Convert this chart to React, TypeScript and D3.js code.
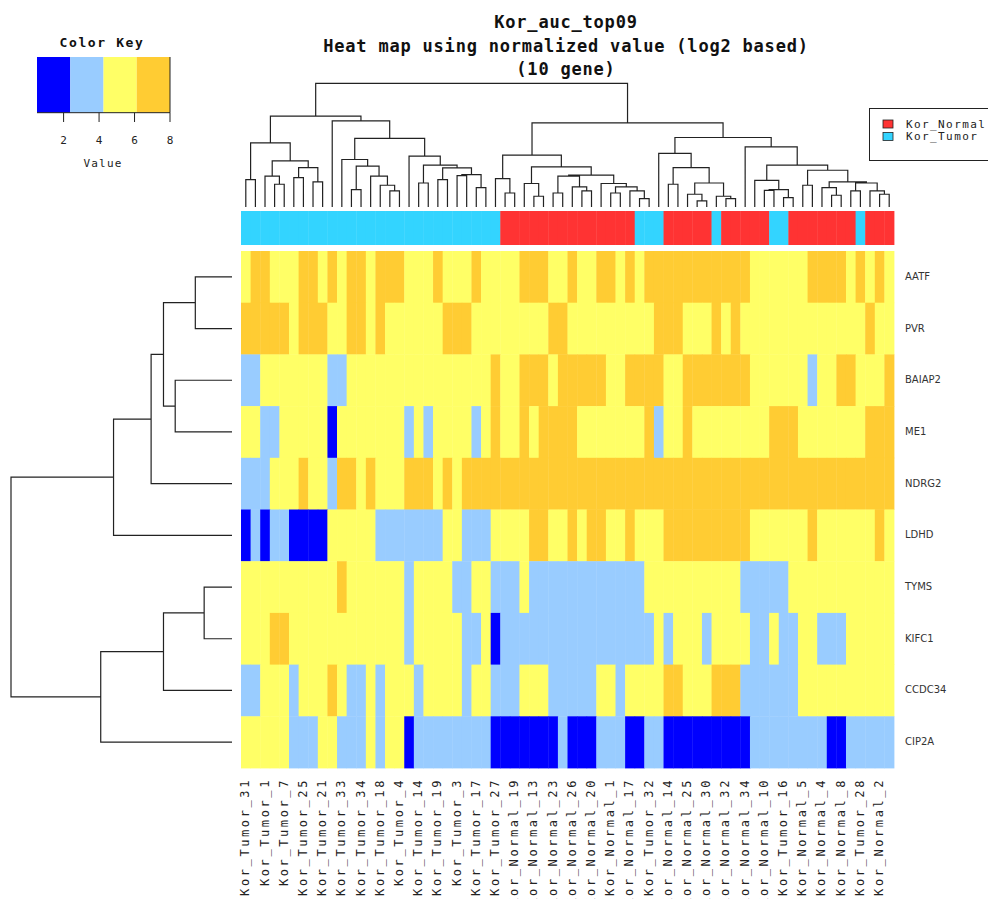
import React from "react";
import * as d3 from "d3";

// Genes (heatmap rows, top to bottom)
const genes = ["AATF", "PVR", "BAIAP2", "ME1", "NDRG2", "LDHD", "TYMS", "KIFC1", "CCDC34", "CIP2A"];

// Samples (heatmap columns, left to right); only every other name is printed
const colLabels = [
  "Kor_Tumor_31", "", "Kor_Tumor_1", "", "Kor_Tumor_7", "", "Kor_Tumor_25", "", "Kor_Tumor_21", "",
  "Kor_Tumor_33", "", "Kor_Tumor_34", "", "Kor_Tumor_18", "", "Kor_Tumor_4", "", "Kor_Tumor_14", "",
  "Kor_Tumor_19", "", "Kor_Tumor_3", "", "Kor_Tumor_17", "", "Kor_Tumor_27", "", "Kor_Normal_19", "",
  "Kor_Normal_13", "", "Kor_Normal_23", "", "Kor_Normal_26", "", "Kor_Normal_20", "", "Kor_Normal_1", "",
  "Kor_Normal_17", "", "Kor_Tumor_32", "", "Kor_Normal_14", "", "Kor_Normal_25", "", "Kor_Normal_30", "",
  "Kor_Normal_32", "", "Kor_Normal_34", "", "Kor_Normal_10", "", "Kor_Tumor_16", "", "Kor_Normal_5", "",
  "Kor_Normal_4", "", "Kor_Normal_8", "", "Kor_Tumor_28", "", "Kor_Normal_2", "",
];

// Sample class of each column (T = Kor_Tumor, N = Kor_Normal)
const colGroups = [
  "T", "T", "T", "T", "T", "T", "T", "T", "T", "T", "T", "T", "T", "T", "T", "T", "T", "T", "T", "T",
  "T", "T", "T", "T", "T", "T", "T", "N", "N", "N", "N", "N", "N", "N", "N", "N", "N", "N", "N", "N",
  "N", "T", "T", "T", "N", "N", "N", "N", "N", "T", "N", "N", "N", "N", "N", "T", "T", "N", "N", "N",
  "N", "N", "N", "N", "T", "N", "N", "N",
];

// Normalized expression (log2), one row per gene
const valAATF = [
  5.2, 7.0, 7.0, 5.2, 5.2, 5.2, 7.0, 7.0, 5.2, 7.0,
  5.2, 7.0, 7.0, 5.2, 7.0, 7.0, 7.0, 5.2, 5.2, 5.2,
  7.0, 5.2, 5.2, 5.2, 7.0, 5.2, 5.2, 5.2, 5.2, 7.0,
  7.0, 7.0, 5.2, 5.2, 7.0, 5.2, 5.2, 7.0, 7.0, 5.2,
  7.0, 5.2, 7.0, 7.0, 7.0, 7.0, 7.0, 7.0, 7.0, 7.0,
  7.0, 7.0, 7.0, 5.2, 5.2, 5.2, 5.2, 5.2, 5.2, 7.0,
  7.0, 7.0, 7.0, 5.2, 7.0, 5.2, 7.0, 5.2,
];
const valPVR = [
  7.0, 7.0, 7.0, 7.0, 7.0, 5.2, 7.0, 7.0, 7.0, 5.2,
  5.2, 7.0, 7.0, 5.2, 7.0, 5.2, 5.2, 5.2, 5.2, 5.2,
  5.2, 7.0, 7.0, 7.0, 5.2, 5.2, 5.2, 5.2, 5.2, 5.2,
  5.2, 5.2, 7.0, 7.0, 5.2, 5.2, 5.2, 5.2, 5.2, 5.2,
  5.2, 5.2, 5.2, 7.0, 7.0, 7.0, 5.2, 5.2, 5.2, 7.0,
  5.2, 7.0, 5.2, 5.2, 5.2, 5.2, 5.2, 5.2, 5.2, 5.2,
  5.2, 5.2, 5.2, 5.2, 5.2, 7.0, 5.2, 5.2,
];
const valBAIAP2 = [
  3.3, 3.3, 5.2, 5.2, 5.2, 5.2, 5.2, 5.2, 5.2, 3.3,
  3.3, 5.2, 5.2, 5.2, 5.2, 5.2, 5.2, 5.2, 5.2, 5.2,
  5.2, 5.2, 5.2, 5.2, 5.2, 5.2, 7.0, 5.2, 5.2, 7.0,
  7.0, 7.0, 5.2, 7.0, 7.0, 7.0, 7.0, 7.0, 5.2, 5.2,
  7.0, 7.0, 7.0, 7.0, 5.2, 5.2, 7.0, 7.0, 7.0, 7.0,
  7.0, 7.0, 7.0, 5.2, 5.2, 5.2, 5.2, 5.2, 5.2, 3.3,
  5.2, 5.2, 7.0, 7.0, 5.2, 5.2, 5.2, 7.0,
];
const valME1 = [
  5.2, 5.2, 3.3, 3.3, 5.2, 5.2, 5.2, 5.2, 5.2, 1.5,
  5.2, 5.2, 5.2, 5.2, 5.2, 5.2, 5.2, 3.3, 5.2, 3.3,
  5.2, 5.2, 5.2, 5.2, 3.3, 5.2, 7.0, 5.2, 5.2, 7.0,
  5.2, 7.0, 7.0, 7.0, 7.0, 5.2, 5.2, 5.2, 5.2, 5.2,
  5.2, 5.2, 7.0, 3.3, 5.2, 5.2, 7.0, 5.2, 5.2, 5.2,
  5.2, 5.2, 5.2, 5.2, 5.2, 7.0, 7.0, 7.0, 5.2, 5.2,
  5.2, 5.2, 5.2, 5.2, 5.2, 7.0, 7.0, 7.0,
];
const valNDRG2 = [
  3.3, 3.3, 3.3, 5.2, 5.2, 5.2, 7.0, 5.2, 5.2, 3.3,
  7.0, 7.0, 5.2, 7.0, 5.2, 5.2, 5.2, 7.0, 7.0, 7.0,
  5.2, 7.0, 5.2, 7.0, 7.0, 7.0, 7.0, 7.0, 7.0, 7.0,
  7.0, 7.0, 7.0, 7.0, 7.0, 7.0, 7.0, 7.0, 7.0, 7.0,
  7.0, 7.0, 7.0, 7.0, 7.0, 7.0, 7.0, 7.0, 7.0, 7.0,
  7.0, 7.0, 7.0, 7.0, 7.0, 7.0, 7.0, 7.0, 7.0, 7.0,
  7.0, 7.0, 7.0, 7.0, 7.0, 7.0, 7.0, 7.0,
];
const valLDHD = [
  1.5, 3.3, 1.5, 3.3, 3.3, 1.5, 1.5, 1.5, 1.5, 5.2,
  5.2, 5.2, 5.2, 5.2, 3.3, 3.3, 3.3, 3.3, 3.3, 3.3,
  3.3, 5.2, 5.2, 3.3, 3.3, 3.3, 5.2, 5.2, 5.2, 5.2,
  7.0, 7.0, 5.2, 5.2, 7.0, 5.2, 7.0, 7.0, 5.2, 5.2,
  7.0, 5.2, 5.2, 5.2, 7.0, 7.0, 7.0, 7.0, 7.0, 7.0,
  7.0, 7.0, 7.0, 5.2, 5.2, 5.2, 5.2, 5.2, 5.2, 7.0,
  5.2, 5.2, 5.2, 5.2, 5.2, 5.2, 7.0, 5.2,
];
const valTYMS = [
  5.2, 5.2, 5.2, 5.2, 5.2, 5.2, 5.2, 5.2, 5.2, 5.2,
  7.0, 5.2, 5.2, 5.2, 5.2, 5.2, 5.2, 3.3, 5.2, 5.2,
  5.2, 5.2, 3.3, 3.3, 5.2, 5.2, 3.3, 3.3, 3.3, 5.2,
  3.3, 3.3, 3.3, 3.3, 3.3, 3.3, 3.3, 3.3, 3.3, 3.3,
  3.3, 3.3, 5.2, 5.2, 5.2, 5.2, 5.2, 5.2, 5.2, 5.2,
  5.2, 5.2, 3.3, 3.3, 3.3, 3.3, 3.3, 5.2, 5.2, 5.2,
  5.2, 5.2, 5.2, 5.2, 5.2, 5.2, 5.2, 5.2,
];
const valKIFC1 = [
  5.2, 5.2, 5.2, 7.0, 7.0, 5.2, 5.2, 5.2, 5.2, 5.2,
  5.2, 5.2, 5.2, 5.2, 5.2, 5.2, 5.2, 3.3, 5.2, 5.2,
  5.2, 5.2, 5.2, 3.3, 3.3, 5.2, 1.5, 3.3, 3.3, 3.3,
  3.3, 3.3, 3.3, 3.3, 3.3, 3.3, 3.3, 3.3, 3.3, 3.3,
  3.3, 3.3, 3.3, 5.2, 3.3, 5.2, 5.2, 5.2, 3.3, 5.2,
  5.2, 5.2, 5.2, 3.3, 3.3, 5.2, 3.3, 3.3, 5.2, 5.2,
  3.3, 3.3, 3.3, 5.2, 5.2, 5.2, 5.2, 5.2,
];
const valCCDC34 = [
  3.3, 3.3, 5.2, 5.2, 5.2, 3.3, 5.2, 5.2, 5.2, 7.0,
  5.2, 3.3, 3.3, 5.2, 3.3, 5.2, 5.2, 5.2, 3.3, 5.2,
  5.2, 5.2, 5.2, 3.3, 5.2, 5.2, 3.3, 3.3, 3.3, 5.2,
  5.2, 5.2, 3.3, 3.3, 3.3, 3.3, 3.3, 5.2, 5.2, 3.3,
  5.2, 5.2, 5.2, 5.2, 7.0, 7.0, 5.2, 5.2, 5.2, 7.0,
  7.0, 7.0, 3.3, 3.3, 3.3, 3.3, 3.3, 3.3, 5.2, 5.2,
  5.2, 5.2, 5.2, 5.2, 5.2, 5.2, 5.2, 5.2,
];
const valCIP2A = [
  5.2, 5.2, 5.2, 5.2, 5.2, 3.3, 3.3, 3.3, 5.2, 5.2,
  3.3, 3.3, 3.3, 5.2, 3.3, 5.2, 5.2, 1.5, 3.3, 3.3,
  3.3, 3.3, 3.3, 3.3, 3.3, 3.3, 1.5, 1.5, 1.5, 1.5,
  1.5, 1.5, 1.5, 3.3, 1.5, 1.5, 1.5, 3.3, 3.3, 3.3,
  1.5, 1.5, 3.3, 3.3, 1.5, 1.5, 1.5, 1.5, 1.5, 1.5,
  1.5, 1.5, 1.5, 3.3, 3.3, 3.3, 3.3, 3.3, 3.3, 3.3,
  3.3, 1.5, 1.5, 3.3, 3.3, 3.3, 3.3, 3.3,
];

// Colour key: bin edges and colours
const keyBreaks = [0.5, 2.375, 4.25, 6.125, 8];
const keyColors = ["#0000FF", "#99CCFF", "#FFFF66", "#FFCC33"];
const keyTicks = [2, 4, 6, 8];

// Side-bar classes
const groupNames = ["Kor_Normal", "Kor_Tumor"];
const groupColors = ["#FF3333", "#33D4FF"];

// Column clustering: [left, right, height]; numbers are column indices
type Node = number | [Node, Node, number];
const tumorClade: Node = [
  [[0, 1, 2.22], [[2, [3, 4, 1.84], 2.49], [[5, 6, 2.38], [7, 8, 2.03], 3.19], 3.73], 5.18],
  [9, [
    [10, [[11, 12, 1.41], [13, [14, [15, 16, 1.3], 1.76], 2.49], 3.3], 3.84],
    [17, [[18, 19, 1.94], [[20, 21, 2.22], [[22, 23, 2.54], [24, 25, 1.57], 2.62], 3.16], 3.38], 4.11],
    5.54], 6.97],
  7.35,
];
const normalClade: Node = [
  [[26, [27, 28, 1.13], 2.3],
    [[29, [30, 31, 0.87], 1.9],
      [[[32, 33, 1.13], [34, [35, 36, 1.3], 1.62], 2.49],
        [37, [[38, 39, 1.13], [40, [41, 42, 0.68], 1.3], 1.62], 1.9], 2.57], 3.24], 4.19],
  [[43, [[44, 45, 1.84], [[46, [47, 48, 0.49], 1.03], [49, [50, 51, 0.68], 0.87], 1.94], 3.19], 4.33],
    [52, [[53, [[54, 55, 1.35], [56, 57, 0.76], 1.41], 2.16],
      [[58, 59, 1.76], [[60, [61, 62, 0.95], 1.57], [[63, 64, 1.3], [65, [66, 67, 1.03], 1.3], 1.94], 2.03], 2.97],
      3.38], 4.86],
    5.62],
  6.8,
];
const colTree: Node = [tumorClade, normalClade, 10.0];

// Row clustering: numbers are gene indices
const rowTree: Node = [
  [[[[0, 1, 1.66], [2, 3, 2.57], 3.1], 4, 3.66], 5, 5.36],
  [[[6, 7, 1.26], 8, 3.1], 9, 5.94],
  10.0,
];

const titleLines = ["Kor_auc_top09", "Heat map using normalized value (log2 based)", "(10 gene)"];

const W = 988;
const H = 899;
const mono = "'DejaVu Sans Mono', monospace";

type Seg = { a: { p: number; h: number }; b: { p: number; h: number }; h: number };

function layoutTree(node: Node, leafPos: (i: number) => number, segs: Seg[]): { p: number; h: number } {
  if (typeof node === "number") return { p: leafPos(node), h: 0 };
  const a = layoutTree(node[0], leafPos, segs);
  const b = layoutTree(node[1], leafPos, segs);
  segs.push({ a, b, h: node[2] });
  return { p: (a.p + b.p) / 2, h: node[2] };
}

export default function App() {
  const matrix = [valAATF, valPVR, valBAIAP2, valME1, valNDRG2, valLDHD, valTYMS, valKIFC1, valCCDC34, valCIP2A];
  const nCol = colLabels.length;

  const x = d3.scaleBand<number>().domain(d3.range(nCol)).range([241, 894]);
  const y = d3.scaleBand<number>().domain(d3.range(genes.length)).range([251, 768]);
  const color = d3.scaleThreshold<number, string>().domain(keyBreaks.slice(1, -1)).range(keyColors);
  const groupColor = d3.scaleOrdinal<string, string>().domain(["N", "T"]).range(groupColors);

  // dendrogram height scales
  const colH = d3.scaleLinear().domain([0, 10]).range([207, 83.3]);
  const rowH = d3.scaleLinear().domain([0, 10]).range([232, 11]);

  const colSegs: Seg[] = [];
  layoutTree(colTree, (i) => (x(i) as number) + x.bandwidth() / 2, colSegs);
  const rowSegs: Seg[] = [];
  layoutTree(rowTree, (i) => (y(i) as number) + y.bandwidth() / 2, rowSegs);

  const colPath = colSegs
    .map((s) => `M${s.a.p},${colH(s.a.h)}V${colH(s.h)}H${s.b.p}V${colH(s.b.h)}`)
    .join("");
  const rowPath = rowSegs
    .map((s) => `M${rowH(s.a.h)},${s.a.p}H${rowH(s.h)}V${s.b.p}H${rowH(s.b.h)}`)
    .join("");

  // colour key scale
  const key = d3.scaleLinear().domain([keyBreaks[0], keyBreaks[keyBreaks.length - 1]]).range([37, 170]);
  const keyTop = 57;
  const keyBottom = 112.7;

  return (
    <svg
      width={W}
      height={H}
      viewBox={`0 0 ${W} ${H}`}
      style={{ position: "absolute", left: 0, top: 0, background: "#fff" }}
    >
      <rect x={0} y={0} width={W} height={H} fill="#fff" />

      {/* title */}
      <g fontFamily={mono} fontWeight="bold" fontSize={17} fill="#111" textAnchor="middle">
        {titleLines.map((t, i) => (
          <text key={i} x={566} y={28 + i * 23.5} letterSpacing={0.8}>
            {t}
          </text>
        ))}
      </g>

      {/* colour key */}
      <g>
        <text x={102} y={47} textAnchor="middle" fontFamily={mono} fontWeight="bold" fontSize={13} letterSpacing={1.6} fill="#111">
          Color Key
        </text>
        {keyColors.map((c, i) => (
          <rect
            key={i}
            x={key(keyBreaks[i])}
            y={keyTop}
            width={key(keyBreaks[i + 1]) - key(keyBreaks[i])}
            height={keyBottom - keyTop}
            fill={c}
          />
        ))}
        <line x1={key(keyBreaks[0])} x2={key(8)} y1={keyBottom} y2={keyBottom} stroke="#222" strokeWidth={1} />
        <line x1={key(8)} x2={key(8)} y1={keyTop} y2={keyBottom} stroke="#222" strokeWidth={1} />
        {keyTicks.map((t) => (
          <g key={t}>
            <line x1={key(t)} x2={key(t)} y1={keyBottom} y2={122} stroke="#222" strokeWidth={1} />
            <text x={key(t)} y={144} textAnchor="middle" fontFamily={mono} fontSize={11} fill="#222">
              {t}
            </text>
          </g>
        ))}
        <text x={103} y={167} textAnchor="middle" fontFamily={mono} fontSize={11} letterSpacing={1.2} fill="#222">
          Value
        </text>
      </g>

      {/* column dendrogram */}
      <path d={colPath} fill="none" stroke="#222" strokeWidth={1.2} />

      {/* row dendrogram */}
      <path d={rowPath} fill="none" stroke="#222" strokeWidth={1.2} />

      {/* class side bar */}
      {colGroups.map((g, c) => (
        <rect key={c} x={x(c)} y={211} width={x.bandwidth() + 0.4} height={34} fill={groupColor(g)} />
      ))}

      {/* heatmap cells */}
      {matrix.map((row, r) =>
        row.map((v, c) => (
          <rect
            key={`${r}-${c}`}
            x={x(c)}
            y={y(r)}
            width={x.bandwidth() + 0.4}
            height={y.bandwidth() + 0.4}
            fill={color(v)}
          />
        ))
      )}

      {/* row labels */}
      {genes.map((g, r) => (
        <text
          key={g}
          x={905}
          y={(y(r) as number) + y.bandwidth() / 2}
          dominantBaseline="middle"
          fontFamily="'DejaVu Sans', sans-serif"
          fontSize={10}
          fill="#333"
        >
          {g}
        </text>
      ))}

      {/* column labels */}
      {colLabels.map((l, c) =>
        l ? (
          <text
            key={c}
            transform={`translate(${(x(c) as number) + x.bandwidth() / 2},778) rotate(-90)`}
            textAnchor="end"
            dominantBaseline="middle"
            fontFamily={mono}
            fontSize={12}
            letterSpacing={2.6}
            fill="#222"
          >
            {l}
          </text>
        ) : null
      )}

      {/* legend */}
      <g>
        <rect x={869.5} y={108.5} width={130} height={52} fill="#fff" stroke="#222" strokeWidth={1} />
        {groupNames.map((n, i) => (
          <g key={n}>
            <rect x={883} y={120 + i * 12.5} width={10} height={8} fill={groupColors[i]} stroke="#222" strokeWidth={0.8} />
            <text x={906} y={124.5 + i * 12.5} dominantBaseline="middle" fontFamily={mono} fontSize={11} letterSpacing={1.4} fill="#222">
              {n}
            </text>
          </g>
        ))}
      </g>
    </svg>
  );
}
